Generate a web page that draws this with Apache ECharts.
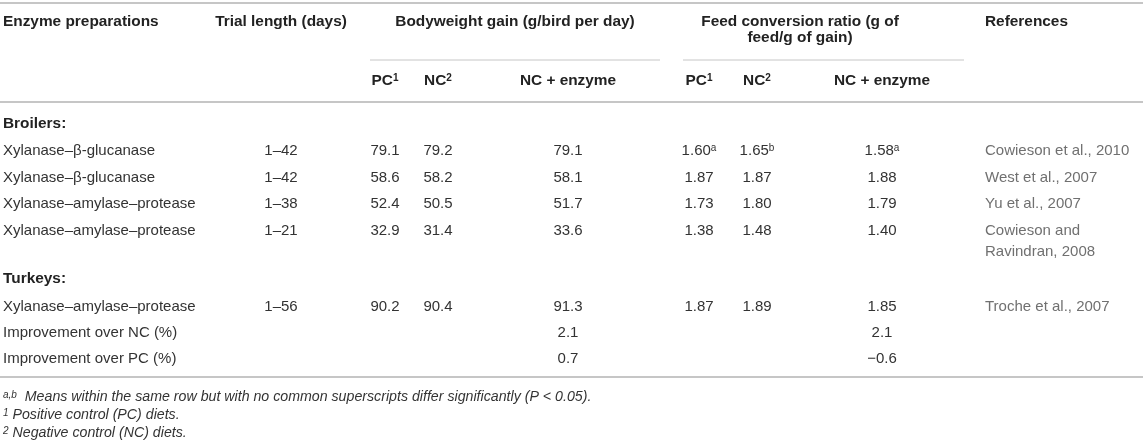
<!DOCTYPE html>
<html>
<head>
<meta charset="UTF-8">
<script src="https://cdn.jsdelivr.net/npm/echarts@6/dist/echarts.min.js"></script>
<title>Enzyme preparations</title>
<style>
  body { margin: 0; background: #fff; }
  #table { width: 1143px; height: 448px; }
</style>
</head>
<body>
<div id="table"></div>
<script type="text/javascript">
// table data
var enzymes = ['Xylanase–β-glucanase', 'Xylanase–β-glucanase', 'Xylanase–amylase–protease', 'Xylanase–amylase–protease', 'Xylanase–amylase–protease'];
var trialDays = ['1–42', '1–42', '1–38', '1–21', '1–56'];
var bwPC = [79.1, 58.6, 52.4, 32.9, 90.2];
var bwNC = [79.2, 58.2, 50.5, 31.4, 90.4];
var bwEnzyme = [79.1, 58.1, 51.7, 33.6, 91.3];
var fcrPC = [1.60, 1.87, 1.73, 1.38, 1.87];
var fcrNC = [1.65, 1.87, 1.80, 1.48, 1.89];
var fcrEnzyme = [1.58, 1.88, 1.79, 1.40, 1.85];
var fcrPCSup = ['a', '', '', '', ''];
var fcrNCSup = ['b', '', '', '', ''];
var fcrEnzymeSup = ['a', '', '', '', ''];
var references = [['Cowieson et al., 2010'], ['West et al., 2007'], ['Yu et al., 2007'], ['Cowieson and', 'Ravindran, 2008'], ['Troche et al., 2007']];
var birdGroups = ['Broilers:', 'Turkeys:'];
var improveLabels = ['Improvement over NC (%)', 'Improvement over PC (%)'];
var bwImprove = [2.1, 0.7];
var fcrImprove = [2.1, -0.6];
var footnotes = [
    ['a,b', '  Means within the same row but with no common superscripts differ significantly (P < 0.05).'],
    ['1', ' Positive control (PC) diets.'],
    ['2', ' Negative control (NC) diets.']
];

// layout
var W = 1143, H = 448;
var colX = { enzyme: 3, trial: 281, bwPC: 385, bwNC: 438, bwEnz: 568, fcrPC: 699, fcrNC: 757, fcrEnz: 882, ref: 985 };
var headY = 22, subY = 81;
var groupY = [124, 279];
var rowY = [151, 178, 204, 231, 307];
var improveY = [333, 359];
var noteY = [397, 415, 433];
var refLine = 21;
var FONT = '"Liberation Sans", Arial, Helvetica, sans-serif';

function num(v, d) { return v.toFixed(d).replace('-', '−'); }
function sup(s) { return s ? '{sup|' + s + '}' : ''; }

var cells = [];
function cell(x, y, text, align, kind) {
    cells.push({ x: x, y: y, text: text, align: align, kind: kind || 'body' });
}

// header
cell(colX.enzyme, headY, 'Enzyme preparations', 'left', 'head');
cell(colX.trial, headY, 'Trial length (days)', 'center', 'head');
cell(515, headY, 'Bodyweight gain (g/bird per day)', 'center', 'head');
cell(800, headY, 'Feed conversion ratio (g of', 'center', 'head');
cell(800, headY + 16, 'feed/g of gain)', 'center', 'head');
cell(colX.ref, headY, 'References', 'left', 'head');
cell(colX.bwPC, subY, 'PC{hsup|1}', 'center', 'head');
cell(colX.bwNC, subY, 'NC{hsup|2}', 'center', 'head');
cell(colX.bwEnz, subY, 'NC + enzyme', 'center', 'head');
cell(colX.fcrPC, subY, 'PC{hsup|1}', 'center', 'head');
cell(colX.fcrNC, subY, 'NC{hsup|2}', 'center', 'head');
cell(colX.fcrEnz, subY, 'NC + enzyme', 'center', 'head');

birdGroups.forEach(function (g, i) { cell(colX.enzyme, groupY[i], g, 'left', 'head'); });

enzymes.forEach(function (e, i) {
    var y = rowY[i];
    cell(colX.enzyme, y, e, 'left');
    cell(colX.trial, y, trialDays[i], 'center');
    cell(colX.bwPC, y, num(bwPC[i], 1), 'center');
    cell(colX.bwNC, y, num(bwNC[i], 1), 'center');
    cell(colX.bwEnz, y, num(bwEnzyme[i], 1), 'center');
    cell(colX.fcrPC, y, num(fcrPC[i], 2) + sup(fcrPCSup[i]), 'center');
    cell(colX.fcrNC, y, num(fcrNC[i], 2) + sup(fcrNCSup[i]), 'center');
    cell(colX.fcrEnz, y, num(fcrEnzyme[i], 2) + sup(fcrEnzymeSup[i]), 'center');
    references[i].forEach(function (r, k) { cell(colX.ref, y + k * refLine, r, 'left', 'ref'); });
});

improveLabels.forEach(function (l, i) {
    cell(colX.enzyme, improveY[i], l, 'left');
    cell(colX.bwEnz, improveY[i], num(bwImprove[i], 1), 'center');
    cell(colX.fcrEnz, improveY[i], num(fcrImprove[i], 1), 'center');
});

footnotes.forEach(function (f, i) {
    cell(colX.enzyme, noteY[i], '{nsup|' + f[0] + '}' + f[1], 'left', 'note');
});

// horizontal rules [x1, x2, y, width]
var rules = [
    [0, W, 3, 2],
    [370, 660, 60, 1],
    [683, 964, 60, 1],
    [0, W, 102, 2],
    [0, W, 377, 2]
];

var styles = {
    head: { fontSize: 15.4, fontWeight: 'bold', fontStyle: 'normal', fill: '#222' },
    body: { fontSize: 15, fontWeight: 'normal', fontStyle: 'normal', fill: '#333' },
    ref: { fontSize: 15, fontWeight: 'normal', fontStyle: 'normal', fill: '#707070' },
    note: { fontSize: 14.2, fontWeight: 'normal', fontStyle: 'italic', fill: '#333' }
};
var rich = {
    sup: { fontSize: 10, verticalAlign: 'top', lineHeight: 10, fontFamily: FONT, fill: '#333' },
    hsup: { fontSize: 10, verticalAlign: 'top', lineHeight: 10, fontFamily: FONT, fontWeight: 'bold', fill: '#222' },
    nsup: { fontSize: 10, verticalAlign: 'top', lineHeight: 10, fontFamily: FONT, fontStyle: 'italic', fill: '#333' }
};

var chart = echarts.init(document.getElementById('table'));
chart.setOption({
    animation: false,
    grid: { left: 0, right: 0, top: 0, bottom: 0 },
    xAxis: { type: 'value', min: 0, max: W, show: false },
    yAxis: { type: 'value', min: 0, max: H, inverse: true, show: false },
    series: [
        {
            type: 'custom',
            coordinateSystem: 'cartesian2d',
            data: rules,
            encode: { x: [0, 1], y: 2 },
            renderItem: function (params, api) {
                var a = api.coord([api.value(0), api.value(2)]);
                var b = api.coord([api.value(1), api.value(2)]);
                return {
                    type: 'line',
                    shape: { x1: a[0], y1: a[1], x2: b[0], y2: b[1] },
                    style: { stroke: '#c6c6c6', lineWidth: api.value(3) }
                };
            }
        },
        {
            type: 'custom',
            coordinateSystem: 'cartesian2d',
            data: cells.map(function (c, i) { return [c.x, c.y, i]; }),
            encode: { x: 0, y: 1 },
            renderItem: function (params, api) {
                var c = cells[api.value(2)];
                var p = api.coord([api.value(0), api.value(1)]);
                var s = styles[c.kind];
                return {
                    type: 'text',
                    x: p[0],
                    y: p[1],
                    style: {
                        text: c.text,
                        rich: rich,
                        fontFamily: FONT,
                        fontSize: s.fontSize,
                        fontWeight: s.fontWeight,
                        fontStyle: s.fontStyle,
                        fill: s.fill,
                        align: c.align,
                        verticalAlign: 'middle'
                    }
                };
            }
        }
    ]
});
</script>
</body>
</html>
